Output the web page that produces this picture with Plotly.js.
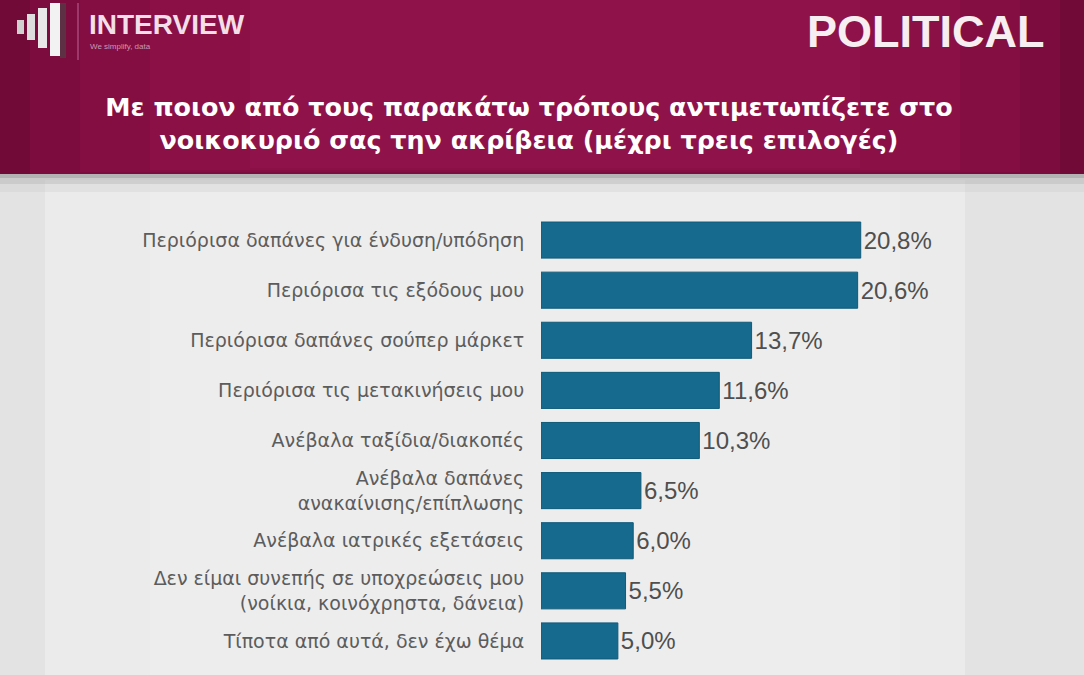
<!DOCTYPE html>
<html><head><meta charset="utf-8">
<script src="https://cdn.plot.ly/plotly-3.0.1.min.js"></script>
<style>html,body{margin:0;padding:0;background:#e4e4e4;}#chart{width:1084px;height:675px;}</style>
</head><body><div id="chart"></div>
<script>
const categories = [
  "Περιόρισα δαπάνες για ένδυση/υπόδηση",
  "Περιόρισα τις εξόδους μου",
  "Περιόρισα δαπάνες σούπερ μάρκετ",
  "Περιόρισα τις μετακινήσεις μου",
  "Ανέβαλα ταξίδια/διακοπές",
  "Ανέβαλα δαπάνες<br>ανακαίνισης/επίπλωσης",
  "Ανέβαλα ιατρικές εξετάσεις",
  "Δεν είμαι συνεπής σε υποχρεώσεις μου<br>(νοίκια, κοινόχρηστα, δάνεια)",
  "Τίποτα από αυτά, δεν έχω θέμα"
];
const values = [20.8, 20.6, 13.7, 11.6, 10.3, 6.5, 6.0, 5.5, 5.0];
const valueLabels = ["20,8%", "20,6%", "13,7%", "11,6%", "10,3%", "6,5%", "6,0%", "5,5%", "5,0%"];
const titleText = "Με ποιον από τους παρακάτω τρόπους αντιμετωπίζετε στο<br>νοικοκυριό σας την ακρίβεια (μέχρι τρεις επιλογές)";

// pixel -> paper helpers (plot area: x 541..1079, y 215..666)
const L = 541, R = 5, T = 215, B = 9, W = 1084, H = 675;
const pw = W - L - R, ph = H - T - B;
const px = X => (X - L) / pw;
const py = Y => (H - B - Y) / ph;

const rect = (x0, x1, y0, y1, color, opacity, extra) => Object.assign({type:'rect', xref:'paper', yref:'paper',
  x0:px(x0), x1:px(x1), y0:py(y1), y1:py(y0), fillcolor:color, opacity:opacity, line:{width:0}, layer:'below'}, extra || {});

const shapes = [
  rect(0, W, 174, H, '#e3e3e3', 1),
  rect(45, 965, 180, H, '#ebebeb', 0.9),
  rect(150, 900, 185, H, '#eeeeee', 0.7),
  rect(0, W, 174, 192, '#c4c4c4', 0.25),
  rect(0, W, 174, 184, '#b0b0b0', 0.35),
  rect(0, W, 174, 178, '#8f8f8f', 0.4),
  rect(0, W, 0, 174, '#720a38', 1),
  rect(30, 1060, 0, 174, '#7e0d3f', 0.8),
  rect(80, 1020, 0, 172, '#881045', 0.7),
  rect(150, 960, 0, 170, '#8f1249', 0.6),
  rect(250, 860, 0, 168, '#94134d', 0.5),
  // logo bars
  rect(17, 24, 20, 34, '#d0d0d0', 1, {layer:'above'}),
  rect(27, 35, 14, 40, '#dddddd', 1, {layer:'above'}),
  rect(38, 47, 8, 48, '#e8e8e8', 1, {layer:'above'}),
  rect(50, 60, 3, 56, '#f2f2f2', 1, {layer:'above'}),
  rect(60, 66, 3, 58, '#4a4a4a', 0.6, {layer:'above'}),
  {type:'line', xref:'paper', yref:'paper', x0:px(78), x1:px(78), y0:py(60), y1:py(3), line:{color:'#a8487a', width:1.5}}
];

const annotations = [
  {xref:'paper', yref:'paper', x:px(87), y:py(25), xanchor:'left', yanchor:'middle', showarrow:false,
   text:'<b>INTERVIEW</b>', font:{family:'Liberation Sans, Arial, sans-serif', size:28, color:'#f2dfe9'}},
  {xref:'paper', yref:'paper', x:px(88), y:py(46), xanchor:'left', yanchor:'middle', showarrow:false,
   text:'We simplify, data', font:{family:'Liberation Sans, Arial, sans-serif', size:8, color:'#c79bb2'}},
  {xref:'paper', yref:'paper', x:px(1046), y:py(31), xanchor:'right', yanchor:'middle', showarrow:false,
   text:'<b>POLITICAL</b>', font:{family:'Liberation Sans, Arial, sans-serif', size:45, color:'#f7eef2'}}
];

const trace = {
  type:'bar', orientation:'h',
  x: values, y: categories,
  text: valueLabels, textposition:'outside', cliponaxis:false,
  textfont:{family:'Liberation Sans, Arial, sans-serif', size:24, color:'#4f4f4f'},
  marker:{color:'#166a8d', line:{color:'#0f5a7a', width:1}},
  width:0.72, hoverinfo:'none'
};

const layout = {
  width:W, height:H,
  margin:{l:L, r:R, t:T, b:B, pad:0},
  paper_bgcolor:'rgba(0,0,0,0)', plot_bgcolor:'rgba(0,0,0,0)',
  showlegend:false,
  title:{text:'<b>'+titleText+'</b>', x:0.488, xref:'container', xanchor:'center', y:1-116/675, yref:'container', yanchor:'middle',
    font:{family:'DejaVu Sans, Verdana, sans-serif', size:25.4, color:'#ffffff'}},
  xaxis:{range:[0,35], visible:false, fixedrange:true},
  yaxis:{autorange:false, range:[8.5,-0.5], type:'category', showgrid:false, zeroline:false, showline:false,
    ticks:'outside', ticklen:12, tickcolor:'rgba(0,0,0,0)',
    tickfont:{family:'DejaVu Sans, Verdana, sans-serif', size:19, color:'#5c5c5c'}},
  shapes: shapes, annotations: annotations,
  bargap:0.28
};
Plotly.newPlot('chart', [trace], layout, {displayModeBar:false, staticPlot:true});
</script></body></html>
